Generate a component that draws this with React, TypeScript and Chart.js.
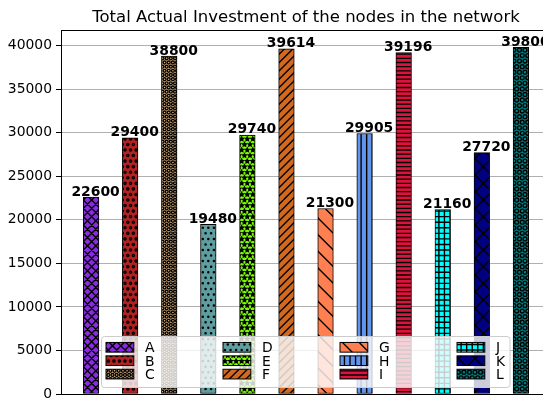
import React, { useEffect, useRef } from 'react';
import { Chart, registerables } from 'chart.js';

Chart.register(...registerables);

const categories = ['A', 'B', 'C', 'D', 'E', 'F', 'G', 'H', 'I', 'J', 'K', 'L'];
const investments = [22600, 29400, 38800, 19480, 29740, 39614, 21300, 29905, 39196, 21160, 27720, 39800];
const barColors = ['#8a2be2', '#b22222', '#deb887', '#5f9ea0', '#7cfc00', '#d2691e', '#ff7f50', '#6495ed', '#dc143c', '#00ffff', '#000080', '#008080'];
const hatches = ['xx', 'ooo', 'OOOO', '...', '***', '//', '\\', '|||', '----', '+++', 'x', 'OOO'];
const yTicks = [0, 5000, 10000, 15000, 20000, 25000, 30000, 35000, 40000];
const titleText = 'Total Actual Investment of the nodes in the network';

const FONT = '"DejaVu Sans", "Liberation Sans", sans-serif';

function makeHatchTile(color: string, hatch: string): HTMLCanvasElement {
  const T = 100;
  const c = document.createElement('canvas');
  c.width = T;
  c.height = T;
  const g = c.getContext('2d')!;
  g.fillStyle = color;
  g.fillRect(0, 0, T, T);
  g.strokeStyle = '#000';
  g.fillStyle = '#000';
  g.lineWidth = 1.39;
  const cnt = (chars: string) => hatch.split('').filter((ch) => chars.includes(ch)).length * 6;
  const ne = cnt('/xX');
  const se = cnt('\\xX');
  const vert = cnt('|+');
  const hor = cnt('-+');
  g.beginPath();
  if (ne) for (let j = -ne; j <= 2 * ne; j++) { const o = (j * T) / ne; g.moveTo(o, T); g.lineTo(o + T, 0); }
  if (se) for (let j = -se; j <= 2 * se; j++) { const o = (j * T) / se; g.moveTo(o, 0); g.lineTo(o + T, T); }
  if (vert) for (let j = 0; j <= vert; j++) { const x = (j * T) / vert; g.moveTo(x, 0); g.lineTo(x, T); }
  if (hor) for (let j = 0; j <= hor; j++) { const y = (j * T) / hor; g.moveTo(0, y); g.lineTo(T, y); }
  g.stroke();

  const shapes = [
    { ch: 'o', r: 0.2, filled: false, star: false },
    { ch: 'O', r: 0.35, filled: false, star: false },
    { ch: '.', r: 0.1, filled: true, star: false },
    { ch: '*', r: 1 / 3, filled: true, star: true },
  ];
  for (const s of shapes) {
    const n = cnt(s.ch);
    if (!n) continue;
    const p = T / n;
    const R = s.r * p;
    for (let row = 0; row <= n; row++) {
      const y = row * p;
      const xs: number[] = [];
      if (row % 2 === 0) for (let i = 0; i <= n; i++) xs.push(i * p);
      else for (let i = 0; i < n; i++) xs.push((i + 0.5) * p);
      for (const x of xs) {
        g.beginPath();
        if (s.star) {
          for (let k = 0; k < 10; k++) {
            const a = -Math.PI / 2 + (k * Math.PI) / 5;
            const rr = k % 2 === 0 ? R : R * 0.5;
            const px = x + rr * Math.cos(a);
            const py = y + rr * Math.sin(a);
            if (k === 0) g.moveTo(px, py); else g.lineTo(px, py);
          }
          g.closePath();
        } else {
          g.arc(x, y, R, 0, Math.PI * 2);
        }
        if (s.filled) g.fill();
        g.stroke();
      }
    }
  }
  return c;
}

export default function App() {
  const ref = useRef<HTMLCanvasElement | null>(null);

  useEffect(() => {
    const canvas = ref.current;
    if (!canvas) return;
    const ctx0 = canvas.getContext('2d')!;
    const patterns = categories.map((_, i) => ctx0.createPattern(makeHatchTile(barColors[i], hatches[i]), 'repeat')!);

    const decor = {
      id: 'decor',
      afterDatasetsDraw(chart: any) {
        const ctx = chart.ctx as CanvasRenderingContext2D;
        const ca = chart.chartArea;
        ctx.save();
        // spines
        ctx.strokeStyle = '#000';
        ctx.lineWidth = 1.1;
        ctx.beginPath();
        ctx.moveTo(ca.left, ca.top + 0.5);
        ctx.lineTo(ca.right + 5, ca.top + 0.5);
        ctx.moveTo(ca.left, ca.bottom + 0.5);
        ctx.lineTo(ca.right + 5, ca.bottom + 0.5);
        ctx.stroke();
        // bar labels
        ctx.fillStyle = '#000';
        ctx.font = `bold 13.9px ${FONT}`;
        ctx.textAlign = 'center';
        ctx.textBaseline = 'alphabetic';
        chart.data.datasets.forEach((ds: any, i: number) => {
          const el = chart.getDatasetMeta(i).data[0];
          if (!el) return;
          ctx.fillText(String(investments[i]), el.x + 4.5, el.y - 1.5);
        });
        // title
        ctx.font = `16.5px ${FONT}`;
        ctx.fillText(titleText, (ca.left + ca.right) / 2, 21.7);
        // legend
        const lx = 101.5, ly = 336.5, lw = 408.5, lh = 51;
        ctx.beginPath();
        ctx.roundRect(lx, ly, lw, lh, 3);
        ctx.fillStyle = 'rgba(255,255,255,0.8)';
        ctx.fill();
        ctx.strokeStyle = '#cccccc';
        ctx.lineWidth = 1;
        ctx.stroke();
        categories.forEach((lab, i) => {
          const col = Math.floor(i / 3);
          const row = i % 3;
          const px = 106 + col * 117;
          const cy = 347.3 + row * 13.4;
          ctx.fillStyle = patterns[i];
          ctx.fillRect(px, cy - 4.85, 27.8, 9.7);
          ctx.strokeStyle = '#000';
          ctx.lineWidth = 1;
          ctx.strokeRect(px, cy - 4.85, 27.8, 9.7);
          ctx.fillStyle = '#000';
          ctx.font = `13.9px ${FONT}`;
          ctx.textAlign = 'left';
          ctx.fillText(lab, px + 39, cy + 5);
        });
        ctx.restore();
      },
    };

    const chart = new Chart(canvas, {
      type: 'bar',
      data: {
        datasets: categories.map((c, i) => ({
          label: c,
          data: [{ x: i, y: investments[i] }],
          backgroundColor: patterns[i],
          borderColor: '#000',
          borderWidth: 1,
          borderSkipped: false,
          barThickness: 15.6,
          grouped: false,
        })) as any,
      },
      options: {
        animation: false,
        responsive: false,
        devicePixelRatio: 1,
        layout: { padding: { left: 0, right: 9, top: 30, bottom: 16 } },
        plugins: {
          legend: { display: false },
          title: { display: false },
          tooltip: { enabled: false },
        },
        scales: {
          x: { type: 'linear', min: -0.77, max: 11.77, display: false, offset: false },
          y: {
            min: 0,
            max: 41790,
            afterBuildTicks: (s: any) => { s.ticks = yTicks.map((v) => ({ value: v })); },
            afterFit: (s: any) => { s.width = 61; },
            ticks: {
              font: { family: FONT, size: 13.9 },
              color: '#000',
              padding: 4,
              callback: (v: any) => String(v),
            },
            grid: { color: '#b0b0b0', lineWidth: 1, tickColor: '#000', tickLength: 5 },
            border: { color: '#000', width: 1 },
          },
        },
      } as any,
      plugins: [decor],
    });
    return () => chart.destroy();
  }, []);

  return (
    <div style={{ position: 'fixed', left: 0, top: 0, width: 543, height: 400, overflow: 'hidden', background: '#fff' }}>
      <canvas ref={ref} width={560} height={410} style={{ display: 'block' }} />
    </div>
  );
}
